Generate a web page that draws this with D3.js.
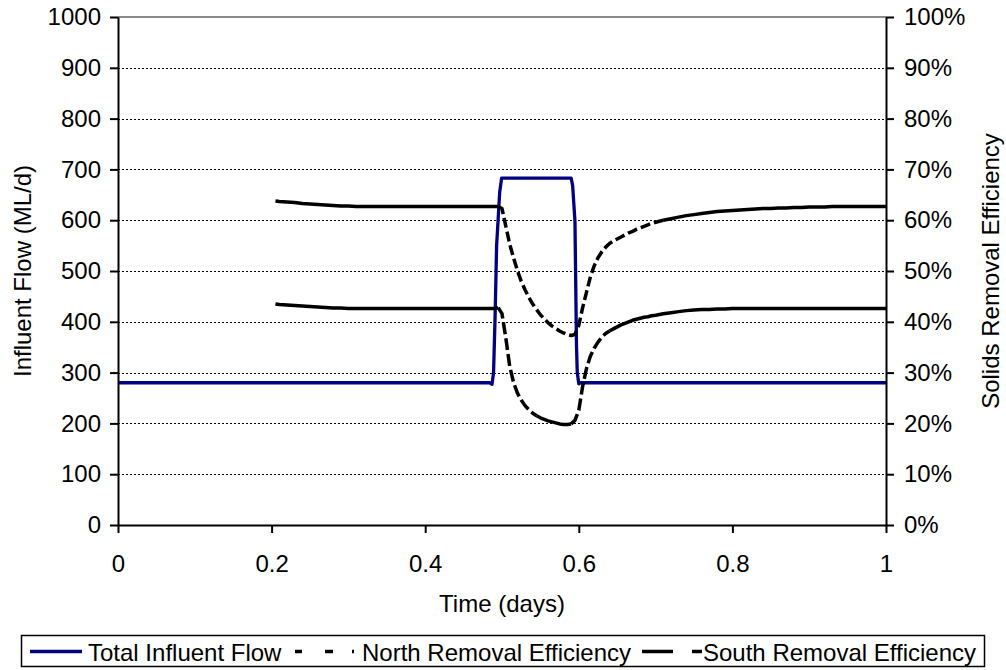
<!DOCTYPE html>
<html lang="en">
<head>
<meta charset="UTF-8">
<title>Influent flow and removal efficiency</title>
<script src="https://cdn.jsdelivr.net/npm/d3@7"></script>
<style>
    body { margin: 0; background: #fff; }
    svg text { font-family: "Liberation Sans", Arial, sans-serif; fill: #000; }
</style>
</head>
<body>
<div id="chart"></div>

<script>
    // Total influent flow (ML/d)
    var flowTime  = [0, 0.484, 0.487, 0.489, 0.491, 0.493, 0.497, 0.4995, 0.59, 0.592, 0.595, 0.597, 0.598, 0.600, 0.602, 1];
    var flowValue = [280, 280, 277, 300, 410, 550, 655, 683, 683, 668, 598, 353, 300, 278, 280, 280];

    // Removal efficiencies (%), same time base for both
    var effTime = [
        0.205, 0.21, 0.22, 0.23, 0.24, 0.25, 0.26, 0.27, 0.28, 0.29,
        0.30, 0.31, 0.32, 0.33, 0.34, 0.35, 0.36, 0.37, 0.38, 0.39,
        0.40, 0.41, 0.42, 0.43, 0.44, 0.45, 0.46, 0.47, 0.48, 0.49,
        0.495, 0.50, 0.505, 0.51, 0.515, 0.52, 0.525, 0.53, 0.535, 0.54,
        0.545, 0.55, 0.555, 0.56, 0.565, 0.57, 0.575, 0.58, 0.585, 0.59,
        0.595, 0.60, 0.605, 0.61, 0.615, 0.62, 0.625, 0.63, 0.635, 0.64,
        0.645, 0.65, 0.655, 0.66, 0.665, 0.67, 0.675, 0.68, 0.685, 0.69,
        0.695, 0.70, 0.71, 0.72, 0.73, 0.74, 0.75, 0.76, 0.77, 0.78,
        0.79, 0.80, 0.81, 0.82, 0.83, 0.84, 0.85, 0.86, 0.87, 0.88,
        0.89, 0.90, 0.91, 0.92, 0.93, 0.94, 0.95, 0.96, 0.97, 0.98,
        0.99, 1.00
    ];
    var northEff = [
        63.8, 63.7, 63.6, 63.5, 63.3, 63.2, 63.1, 63.0, 62.9, 62.8,
        62.8, 62.7, 62.7, 62.7, 62.7, 62.7, 62.7, 62.7, 62.7, 62.7,
        62.7, 62.7, 62.7, 62.7, 62.7, 62.7, 62.7, 62.7, 62.7, 62.7,
        62.7, 62.3, 58.8, 55.3, 52.6, 50.1, 48.0, 46.3, 44.8, 43.5,
        42.4, 41.4, 40.6, 39.8, 39.2, 38.7, 38.2, 37.8, 37.5, 37.3,
        37.5, 39.3, 42.8, 45.8, 48.8, 51.0, 52.6, 53.8, 54.7, 55.4,
        55.9, 56.3, 56.7, 57.1, 57.5, 57.8, 58.2, 58.5, 58.8, 59.1,
        59.4, 59.6, 60.0, 60.3, 60.6, 60.9, 61.1, 61.3, 61.5, 61.7,
        61.8, 61.9, 62.0, 62.1, 62.2, 62.3, 62.3, 62.4, 62.4, 62.5,
        62.5, 62.6, 62.6, 62.6, 62.7, 62.7, 62.7, 62.7, 62.7, 62.7,
        62.7, 62.7
    ];
    var southEff = [
        43.5, 43.4, 43.3, 43.2, 43.1, 43.0, 42.9, 42.8, 42.7, 42.7,
        42.6, 42.6, 42.6, 42.6, 42.6, 42.6, 42.6, 42.6, 42.6, 42.6,
        42.6, 42.6, 42.6, 42.6, 42.6, 42.6, 42.6, 42.6, 42.6, 42.6,
        42.8, 41.6, 36.8, 31.3, 28.1, 26.0, 24.6, 23.5, 22.7, 22.0,
        21.5, 21.1, 20.8, 20.5, 20.3, 20.1, 19.9, 19.8, 19.8, 19.9,
        20.6, 22.6, 27.3, 30.8, 33.2, 34.8, 36.0, 37.0, 37.7, 38.2,
        38.6, 39.0, 39.4, 39.7, 40.0, 40.3, 40.5, 40.7, 40.9, 41.0,
        41.2, 41.3, 41.6, 41.8, 42.0, 42.2, 42.3, 42.4, 42.4, 42.5,
        42.5, 42.6, 42.6, 42.6, 42.6, 42.6, 42.6, 42.6, 42.6, 42.6,
        42.6, 42.6, 42.6, 42.6, 42.6, 42.6, 42.6, 42.6, 42.6, 42.6,
        42.6, 42.6
    ];

    var xTicks = [0, 0.2, 0.4, 0.6, 0.8, 1];
    var flowTicks = [0, 100, 200, 300, 400, 500, 600, 700, 800, 900, 1000];
    var pctTicks = [0, 0.1, 0.2, 0.3, 0.4, 0.5, 0.6, 0.7, 0.8, 0.9, 1];
    var seriesNames = ["Total Influent Flow", "North Removal Efficiency", "South Removal Efficiency"];

    var width = 1006, height = 670;
    var plotLeft = 118, plotRight = 886, plotTop = 17, plotBottom = 525;

    var svg = d3.select("#chart").append("svg")
        .attr("width", width)
        .attr("height", height);

    var x = d3.scaleLinear().domain([0, 1]).range([plotLeft, plotRight]);
    var yFlow = d3.scaleLinear().domain([0, 1000]).range([plotBottom, plotTop]);
    var yPct = d3.scaleLinear().domain([0, 1]).range([plotBottom, plotTop]);

    // gridlines
    svg.append("g")
        .selectAll("line")
        .data(flowTicks.filter(function(d) { return d > 0 && d < 1000; }))
        .enter().append("line")
        .attr("x1", plotLeft).attr("x2", plotRight)
        .attr("y1", function(d) { return Math.round(yFlow(d)) + 0.5; })
        .attr("y2", function(d) { return Math.round(yFlow(d)) + 0.5; })
        .attr("stroke", "#000")
        .attr("stroke-width", 1)
        .attr("stroke-dasharray", "2,2")
        .attr("shape-rendering", "crispEdges");

    // plot area border (only the top shows)
    svg.append("line")
        .attr("x1", plotLeft).attr("x2", plotRight)
        .attr("y1", yFlow(1000)).attr("y2", yFlow(1000))
        .attr("stroke", "#8a8a8a")
        .attr("stroke-width", 2);

    var line = d3.line()
        .x(function(d) { return d[0]; })
        .y(function(d) { return d[1]; });

    // flow line
    var flowPts = flowTime.map(function(t, i) { return [x(t), yFlow(flowValue[i])]; });
    svg.append("path")
        .attr("d", line(flowPts))
        .attr("fill", "none")
        .attr("stroke", "#000080")
        .attr("stroke-width", 3.3)
        .attr("stroke-linejoin", "round");

    // efficiency lines: in the original the flat, densely sampled parts
    // come out solid and only the steep parts show the dash pattern,
    // so split the line into steep / flat runs by screen slope
    function drawEff(vals, dash, minSlope) {
        var pts = effTime.map(function(t, i) { return [x(t), yPct(vals[i] / 100)]; });
        var runs = [];
        d3.pairs(pts).forEach(function(p) {
            var steep = Math.abs(p[1][1] - p[0][1]) / Math.abs(p[1][0] - p[0][0]) > minSlope;
            var last = runs[runs.length - 1];
            if (last && last.steep === steep) {
                last.pts.push(p[1]);
            } else {
                runs.push({steep: steep, pts: [p[0], p[1]]});
            }
        });
        svg.append("g")
            .selectAll("path")
            .data(runs)
            .enter().append("path")
            .attr("d", function(d) { return line(d.pts); })
            .attr("fill", "none")
            .attr("stroke", "#000")
            .attr("stroke-width", 3.5)
            .attr("stroke-linejoin", "round")
            .attr("stroke-dasharray", function(d) { return d.steep ? dash : null; });
    }
    drawEff(northEff, "10,4", 0.22);
    drawEff(southEff, "12,4", 0.6);

    // axes
    var fontSize = "24px";

    var gx = svg.append("g")
        .attr("transform", "translate(0," + plotBottom + ")")
        .call(d3.axisBottom(x).tickValues(xTicks).tickFormat(d3.format(""))
            .tickSize(8).tickSizeOuter(0).tickPadding(22));

    var gl = svg.append("g")
        .attr("transform", "translate(" + plotLeft + ",0)")
        .call(d3.axisLeft(yFlow).tickValues(flowTicks).tickFormat(d3.format("d"))
            .tickSize(8).tickSizeOuter(0).tickPadding(9));

    var gr = svg.append("g")
        .attr("transform", "translate(" + plotRight + ",0)")
        .call(d3.axisRight(yPct).tickValues(pctTicks).tickFormat(d3.format(".0%"))
            .tickSize(8).tickSizeOuter(0).tickPadding(10));

    [gx, gl, gr].forEach(function(g) {
        g.attr("font-family", null).attr("font-size", null);
        g.select(".domain").attr("stroke", "#000").attr("stroke-width", 2);
        g.selectAll(".tick line").attr("stroke", "#000").attr("stroke-width", 2);
        g.selectAll(".tick text").style("font-size", fontSize);
    });

    // axis titles
    svg.append("text")
        .attr("x", (plotLeft + plotRight) / 2)
        .attr("y", 612)
        .attr("text-anchor", "middle")
        .style("font-size", fontSize)
        .text("Time (days)");

    svg.append("text")
        .attr("transform", "translate(31," + (plotTop + plotBottom) / 2 + ") rotate(-90)")
        .attr("text-anchor", "middle")
        .style("font-size", fontSize)
        .text("Influent Flow (ML/d)");

    svg.append("text")
        .attr("transform", "translate(999," + (plotTop + plotBottom) / 2 + ") rotate(-90)")
        .attr("text-anchor", "middle")
        .style("font-size", fontSize)
        .text("Solids Removal Efficiency");

    // legend
    var leg = svg.append("g");
    leg.append("rect")
        .attr("x", 21.5).attr("y", 635.5)
        .attr("width", 963).attr("height", 31)
        .attr("fill", "#fff")
        .attr("stroke", "#000")
        .attr("stroke-width", 1.5);

    var legY = 651.5;
    var legItems = [
        {x0: 30, x1: 82, color: "#000080", dash: null, tx: 88},
        {x0: 295, x1: 355, color: "#000", dash: "7,23,8,19,2,100", tx: 362},
        {x0: 642, x1: 703, color: "#000", dash: "31,19,10,100", tx: 703}
    ];
    legItems.forEach(function(d, i) {
        leg.append("line")
            .attr("x1", d.x0).attr("x2", d.x1)
            .attr("y1", legY).attr("y2", legY)
            .attr("stroke", d.color)
            .attr("stroke-width", 3.3)
            .attr("stroke-dasharray", d.dash);
        leg.append("text")
            .attr("x", d.tx)
            .attr("y", 660.5)
            .style("font-size", fontSize)
            .text(seriesNames[i]);
    });
</script>
</body>
</html>
